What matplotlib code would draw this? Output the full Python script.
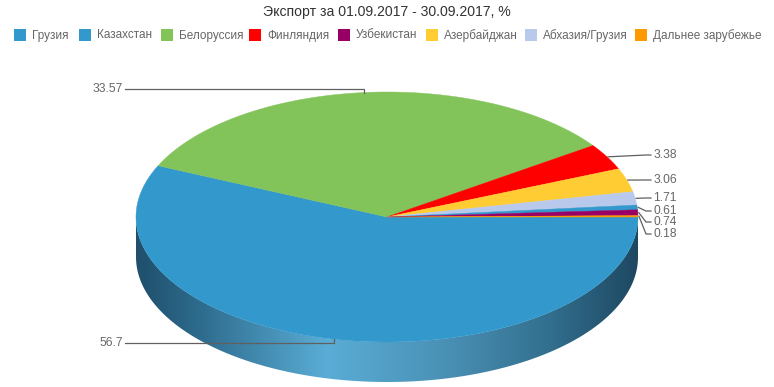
import numpy as np
import matplotlib
matplotlib.use("Agg")
import matplotlib.pyplot as plt
from matplotlib.patches import Polygon, Rectangle
from matplotlib.colors import LinearSegmentedColormap

# ---- data ----
title = "Экспорт за 01.09.2017 - 30.09.2017, %"
legend_names = ["Грузия", "Казахстан", "Белоруссия", "Финляндия", "Узбекистан",
                "Азербайджан", "Абхазия/Грузия", "Дальнее зарубежье"]
legend_colors = ["#3399cc", "#3399cc", "#82c45a", "#ff0000", "#990066",
                 "#ffcc33", "#b8c9ec", "#ff9900"]
# slices in drawing order (clockwise from 3 o'clock)
slice_names = ["Казахстан", "Белоруссия", "Финляндия", "Азербайджан",
               "Абхазия/Грузия", "Грузия", "Узбекистан", "Дальнее зарубежье"]
slice_values = [56.7, 33.57, 3.38, 3.06, 1.71, 0.61, 0.74, 0.18]
slice_labels = ["56.7", "33.57", "3.38", "3.06", "1.71", "0.61", "0.74", "0.18"]

# ---- layout ----
W, H = 774, 387
cx, cy, rx, ry, depth = 387, 217, 251, 125, 40
label_pos = {"Казахстан": (123, 343, "left"), "Белоруссия": (123, 89, "left"),
             "Финляндия": (653, 155, "right"), "Азербайджан": (653, 180, "right"),
             "Абхазия/Грузия": (653, 198, "right"), "Грузия": (653, 211, "right"),
             "Узбекистан": (653, 222, "right"), "Дальнее зарубежье": (653, 234, "right")}
legend_x = [14, 79, 161, 249, 338, 426, 525, 635]
FONT = ["Liberation Sans", "DejaVu Sans"]
px = 72 / 100

fig = plt.figure(figsize=(W / 100, H / 100), dpi=100)
ax = fig.add_axes([0, 0, 1, 1])
ax.set_xlim(0, W)
ax.set_ylim(H, 0)
ax.axis("off")

color_of = dict(zip(legend_names, legend_colors))

def ell(theta_deg, dy=0):
    t = np.radians(theta_deg)
    return cx + rx * np.cos(t), cy - ry * np.sin(t) + dy

# side wall (front half), gradient fill
t = np.linspace(-180, 0, 200)
top = np.array([ell(a) for a in t])
bot = np.array([ell(a, depth) for a in t[::-1]])
side = Polygon(np.vstack([top, bot]), closed=True, facecolor="none", edgecolor="none")
ax.add_patch(side)
cmap = LinearSegmentedColormap.from_list("side", [
    (0.0, "#1f4f6b"), (0.12, "#2d6a8c"), (0.38, "#5aadd6"),
    (0.62, "#4a90b5"), (0.82, "#33708f"), (1.0, "#1e4862")])
grad = np.linspace(0, 1, 256)[None, :]
im = ax.imshow(grad, cmap=cmap, extent=[cx - rx, cx + rx, cy + ry + depth + 2, cy - 2],
               aspect="auto", zorder=1, interpolation="bilinear")
im.set_clip_path(side)

# top face slices
total = sum(slice_values)
start = 0.0
anchors = {}
for name, v in zip(slice_names, slice_values):
    span = v / total * 360
    a0, a1 = start, start - span
    angs = np.linspace(a0, a1, max(3, int(span * 2)))
    pts = [(cx, cy)] + [ell(a) for a in angs]
    ax.add_patch(Polygon(pts, closed=True, facecolor=color_of[name],
                         edgecolor=color_of[name], lw=0.3, zorder=2))
    anchors[name] = ell((a0 + a1) / 2)
    start = a1

# data labels with connectors
for name, lab in zip(slice_names, slice_labels):
    ax_, ay_ = anchors[name]
    lx, ly, side_ = label_pos[name]
    if side_ == "left":
        xs, ys = [lx + 2, ax_, ax_], [ly, ly, ay_]
        ax.text(lx, ly, lab, ha="right", va="center", fontsize=12 * px,
                color="#666666", family=FONT, zorder=4)
    else:
        xs, ys = [ax_ + 1, lx - 7, lx - 2], [ay_, ly, ly]
        ax.text(lx, ly, lab, ha="left", va="center", fontsize=12 * px,
                color="#666666", family=FONT, zorder=4)
    ax.plot(xs, ys, color="#606060", lw=0.9, zorder=3, solid_joinstyle="miter")

# title
ax.text(W / 2, 12, title, ha="center", va="center", fontsize=14 * px,
        color="#333333", family=FONT)

# legend
for x, name, c in zip(legend_x, legend_names, legend_colors):
    ax.add_patch(Rectangle((x, 29), 12, 12, facecolor=c, edgecolor="none"))
    ax.text(x + 18, 35.5, name, ha="left", va="center", fontsize=11.7 * px,
            color="#666666", family=FONT)

fig.savefig("out.png", dpi=100)
